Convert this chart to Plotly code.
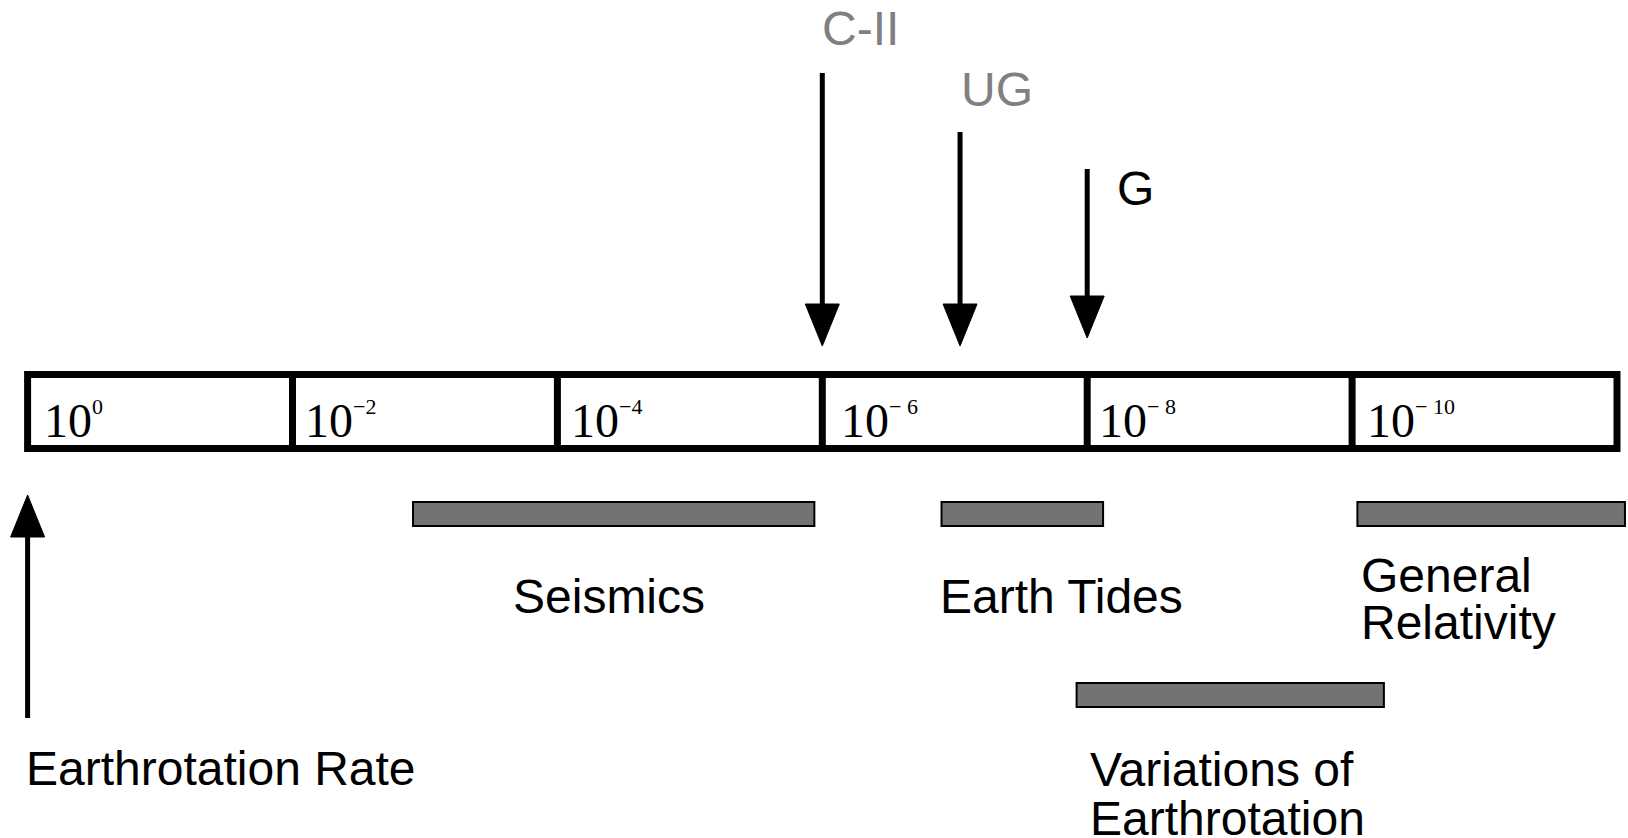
import plotly.graph_objects as go

# ---------------- data ----------------
# decade scale: position d means 10^-d
scale_start = [0, 2, 4, 6, 8, 10]
scale_end = 12
exponent_labels = ["0", "\u22122", "\u22124", "\u2212 6", "\u2212 8", "\u2212 10"]

arrow_names = ["C-II", "UG", "G"]
arrow_decades = [6.0, 7.04, 8.0]
arrow_colors = ["#808080", "#808080", "#000000"]

up_arrow_name = "Earthrotation Rate"
up_arrow_decade = 0

bar_names = ["Seismics", "Earth Tides", "General Relativity", "Variations of Earthrotation"]
bar_start = [2.91, 6.9, 10.04, 7.92]
bar_end = [5.94, 8.12, 12.06, 10.24]

# ---------------- layout / style constants (pixels) ----------------
W, H = 1628, 838
X0_PX, PX_PER_DEC = 27.6, 132.45
BOX_TOP, BOX_BOT = 374.5, 448.5
BOX_LW = 7
HEAD_HALF = 17.0 / PX_PER_DEC
HEAD_LEN = 42
SHAFT_W = 5
arrow_top_px = [73, 132, 169]
arrow_tip_px = [346, 346, 338]
arrow_label_y = [28, 89, 188]
arrow_label_dx = [0, 1, 30]
up_tip, up_bottom = 495, 718
bar_rows = [514, 514, 514, 695]
bar_half_h = 12
SANS = "Liberation Sans, Arial, sans-serif"
SERIF = "Liberation Serif, Times New Roman, serif"
FS = 48

fig = go.Figure()
shapes = []
annotations = []

# scale box
shapes.append(dict(type="rect", xref="x", yref="y", x0=scale_start[0], x1=scale_end,
                   y0=BOX_TOP, y1=BOX_BOT, line=dict(color="black", width=BOX_LW),
                   fillcolor="white", layer="above"))
for d in scale_start[1:]:
    shapes.append(dict(type="line", xref="x", yref="y", x0=d, x1=d, y0=BOX_TOP, y1=BOX_BOT,
                       line=dict(color="black", width=BOX_LW), layer="above"))
label_off = [16, 12, 14, 19, 12, 15]
for d, e, off in zip(scale_start, exponent_labels, label_off):
    annotations.append(dict(x=d, y=420.5, xref="x", yref="y", text="10", showarrow=False,
                            xanchor="left", yanchor="middle", xshift=off - 2,
                            font=dict(family=SERIF, size=48, color="black")))
    annotations.append(dict(x=d, y=406.5, xref="x", yref="y", text=e, showarrow=False,
                            xanchor="left", yanchor="middle", xshift=off + 46,
                            font=dict(family=SERIF, size=22, color="black")))

# downward arrows
for name, d, top, tip, ly, dx, col in zip(arrow_names, arrow_decades, arrow_top_px,
                                          arrow_tip_px, arrow_label_y, arrow_label_dx, arrow_colors):
    fig.add_trace(go.Scatter(x=[d, d], y=[top, tip - HEAD_LEN + 4], mode="lines",
                             line=dict(color="black", width=SHAFT_W), hoverinfo="skip",
                             showlegend=False))
    fig.add_trace(go.Scatter(x=[d - HEAD_HALF, d + HEAD_HALF, d, d - HEAD_HALF],
                             y=[tip - HEAD_LEN, tip - HEAD_LEN, tip, tip - HEAD_LEN],
                             mode="lines", fill="toself", fillcolor="black",
                             line=dict(color="black", width=1), hoverinfo="skip",
                             showlegend=False))
    annotations.append(dict(x=d, y=ly, xref="x", yref="y", text=name, showarrow=False,
                            xanchor="left", yanchor="middle", xshift=dx - 2,
                            font=dict(family=SANS, size=FS, color=col)))

# upward arrow
d = up_arrow_decade
fig.add_trace(go.Scatter(x=[d, d], y=[up_bottom, up_tip + HEAD_LEN - 4], mode="lines",
                         line=dict(color="black", width=SHAFT_W), hoverinfo="skip",
                         showlegend=False))
fig.add_trace(go.Scatter(x=[d - HEAD_HALF, d + HEAD_HALF, d, d - HEAD_HALF],
                         y=[up_tip + HEAD_LEN, up_tip + HEAD_LEN, up_tip, up_tip + HEAD_LEN],
                         mode="lines", fill="toself", fillcolor="black",
                         line=dict(color="black", width=1), hoverinfo="skip",
                         showlegend=False))
annotations.append(dict(x=d, y=768, xref="x", yref="y", text=up_arrow_name, showarrow=False,
                        xanchor="left", yanchor="middle", xshift=-4,
                        font=dict(family=SANS, size=FS, color="black")))

# gray bars
for name, s, e, row in zip(bar_names, bar_start, bar_end, bar_rows):
    shapes.append(dict(type="rect", xref="x", yref="y", x0=s, x1=e,
                       y0=row - bar_half_h, y1=row + bar_half_h,
                       line=dict(color="black", width=2), fillcolor="#737373"))

# bar labels
def lab(text, x, y, anchor, dx):
    annotations.append(dict(x=x, y=y, xref="x", yref="y", text=text, showarrow=False,
                            xanchor=anchor, yanchor="middle", xshift=dx,
                            font=dict(family=SANS, size=FS, color="black")))

lab(bar_names[0], (bar_start[0] + bar_end[0]) / 2, 596, "center", -5)
lab(bar_names[1], bar_start[1], 596, "left", -4)
g1, g2 = bar_names[2].split(" ")
lab(g1, bar_start[2], 575, "left", 2)
lab(g2, bar_start[2], 622, "left", 2)
v = bar_names[3].split(" ")
lab(" ".join(v[:2]), bar_start[3], 769, "left", 11)
lab(v[2], bar_start[3], 818, "left", 11)

x_min = (0 - X0_PX) / PX_PER_DEC
x_max = (W - X0_PX) / PX_PER_DEC
fig.update_layout(
    width=W, height=H, margin=dict(l=0, r=0, t=0, b=0),
    paper_bgcolor="white", plot_bgcolor="white",
    xaxis=dict(range=[x_min, x_max], visible=False, fixedrange=True),
    yaxis=dict(range=[H, 0], visible=False, fixedrange=True),
    shapes=shapes, annotations=annotations, showlegend=False,
)
fig.write_html("out.html", config={"displayModeBar": False},
               post_script="document.body.style.margin='0';document.body.style.overflow='hidden';")
